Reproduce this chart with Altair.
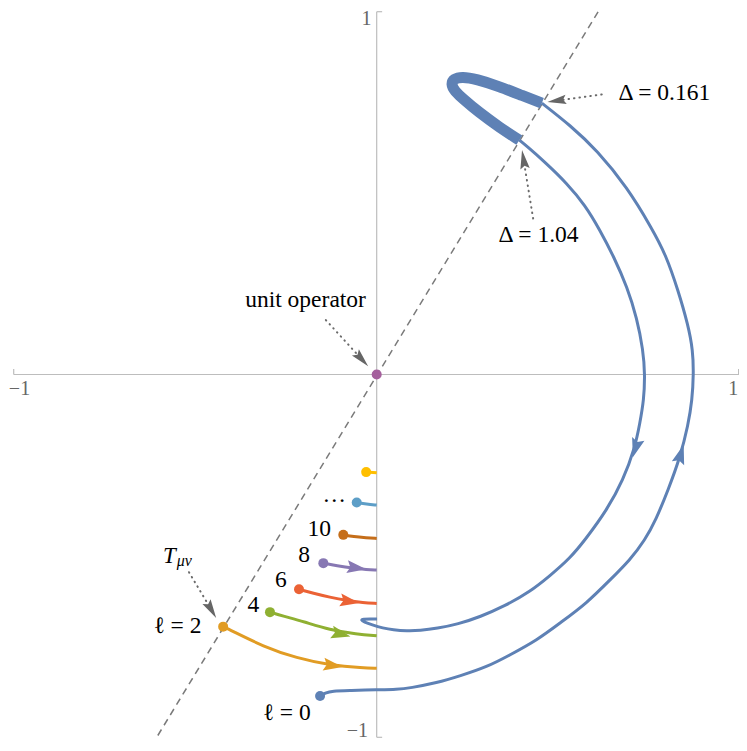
import math
import altair as alt
import pandas as pd

# ---------------- values (data coordinates) ----------------
diag_x = [-0.603, 0.615]
diag_y = [-0.995, 1.008]

# l = 0 trajectory, outer branch (from the l=0 point up to Delta=0.161)
l0_outer_x = [-0.156, -0.142, -0.123, -0.074, 0.001, 0.056, 0.092, 0.166, 0.229, 0.304, 0.367,
              0.442, 0.505, 0.579, 0.643, 0.698, 0.739, 0.769, 0.803, 0.836, 0.858, 0.869,
              0.873, 0.871, 0.858, 0.830, 0.797, 0.758, 0.690, 0.607, 0.533, 0.455]
l0_outer_y = [-0.886, -0.878, -0.872, -0.871, -0.869, -0.868, -0.864, -0.850, -0.831, -0.806, -0.773,
              -0.732, -0.685, -0.630, -0.566, -0.511, -0.456, -0.401, -0.318, -0.228, -0.139, -0.071,
              0.001, 0.067, 0.136, 0.233, 0.329, 0.403, 0.516, 0.618, 0.687, 0.748]
# thick loop between Delta=0.161 and Delta=1.04
l0_loop_x = [0.455, 0.403, 0.335, 0.275, 0.235, 0.212, 0.205, 0.214, 0.240, 0.280, 0.340, 0.393]
l0_loop_y = [0.748, 0.768, 0.795, 0.814, 0.821, 0.815, 0.800, 0.782, 0.758, 0.724, 0.680, 0.646]
# inner branch (from Delta=1.04 down and back to the axis)
l0_inner_x = [0.393, 0.414, 0.464, 0.524, 0.574, 0.615, 0.654, 0.690, 0.717, 0.734, 0.739, 0.736,
              0.725, 0.712, 0.679, 0.634, 0.574, 0.533, 0.477, 0.422, 0.353, 0.285, 0.224, 0.166,
              0.119, 0.083, 0.045, 0.017, -0.013, -0.035, -0.043, -0.038, -0.018, 0.001]
l0_inner_y = [0.646, 0.629, 0.585, 0.527, 0.467, 0.398, 0.323, 0.241, 0.155, 0.067, 0.001, -0.071,
              -0.134, -0.200, -0.291, -0.374, -0.456, -0.506, -0.555, -0.599, -0.638, -0.668, -0.688, -0.700,
              -0.706, -0.707, -0.704, -0.699, -0.690, -0.682, -0.677, -0.674, -0.674, -0.674]

l2_x = [-0.423, -0.404, -0.312, -0.220, -0.129, -0.037, 0.0]
l2_y = [-0.695, -0.704, -0.750, -0.782, -0.801, -0.809, -0.810]
l4_x = [-0.294, -0.257, -0.202, -0.129, -0.055, 0.0]
l4_y = [-0.655, -0.666, -0.681, -0.704, -0.716, -0.720]
l6_x = [-0.214, -0.175, -0.129, -0.083, -0.037, 0.0]
l6_y = [-0.592, -0.603, -0.614, -0.623, -0.629, -0.631]
l8_x = [-0.147, -0.110, -0.064, -0.028, 0.0]
l8_y = [-0.520, -0.527, -0.534, -0.538, -0.539]
l10_x = [-0.092, -0.064, -0.028, 0.0]
l10_y = [-0.442, -0.447, -0.450, -0.452]
l12_x = [-0.055, -0.028, 0.0]
l12_y = [-0.353, -0.357, -0.360]
l14_x = [-0.029, 0.0]
l14_y = [-0.269, -0.271]

unit_x = [0.0]
unit_y = [0.0]

# arrowheads on the flows: (series, x, y)
arrow_series = ["l0_inner", "l0_outer", "l2", "l4", "l6", "l8"]
arrow_x = [0.714, 0.837, -0.123, -0.101, -0.077, -0.058]
arrow_y = [-0.200, -0.222, -0.802, -0.715, -0.625, -0.533]

# annotation pointers: dotted line start and arrowhead position
ann_start_x = [-0.140, 0.620, 0.431, -0.517]
ann_start_y = [0.150, 0.772, 0.430, -0.545]
ann_head_x = [-0.043, 0.499, 0.405, -0.457]
ann_head_y = [0.044, 0.755, 0.590, -0.646]

# labels
lab_c_text = ["unit operator", "Δ = 1.04", "ℓ = 2", "ℓ = 0", "4", "6", "8", "10", "…"]
lab_c_x = [-0.196, 0.446, -0.549, -0.248, -0.340, -0.264, -0.200, -0.158, -0.117]
lab_c_y = [0.187, 0.366, -0.712, -0.953, -0.655, -0.585, -0.516, -0.445, -0.352]
lab_l_text = ["Δ = 0.161"]
lab_l_x = [0.666]
lab_l_y = [0.757]
tick_text = ["−1", "1", "1", "−1"]
tick_x = [-0.984, 0.982, -0.028, -0.053]
tick_y = [-0.057, -0.057, 0.962, -0.999]

# ---------------- styling ----------------
series_names = ["l0_outer", "l0_inner", "l2", "l4", "l6", "l8", "l10", "l12", "l14", "unit"]
series_colors = ["#5E81B5", "#5E81B5", "#E19C24", "#8FB032", "#EB6235", "#8778B3",
                 "#C56E1A", "#5D9EC7", "#FFBF00", "#A5609D"]
series_xy = {
    "l0_outer": (l0_outer_x, l0_outer_y), "l0_inner": (l0_inner_x, l0_inner_y),
    "l2": (l2_x, l2_y), "l4": (l4_x, l4_y), "l6": (l6_x, l6_y), "l8": (l8_x, l8_y),
    "l10": (l10_x, l10_y), "l12": (l12_x, l12_y), "l14": (l14_x, l14_y),
}

# the plot area covers the whole canvas; the domain leaves the small margins of the original
SX = alt.Scale(domain=[-1.0157, 0.9981], nice=False, zero=False)
SY = alt.Scale(domain=[-1.0157, 1.0102], nice=False, zero=False)
COL = alt.Color("s:N", scale=alt.Scale(domain=series_names, range=series_colors), legend=None)
FONT = "Liberation Serif"


def X(f="x"):
    return alt.X(f"{f}:Q", scale=SX, axis=None)


def Y(f="y"):
    return alt.Y(f"{f}:Q", scale=SY, axis=None)


def heading(xs, ys, ax, ay):
    k = min(range(len(xs)), key=lambda j: (xs[j] - ax) ** 2 + (ys[j] - ay) ** 2)
    k0, k1 = max(k - 1, 0), min(k + 1, len(xs) - 1)
    return (math.degrees(math.atan2(xs[k1] - xs[k0], ys[k1] - ys[k0])) + 360) % 360


rows = []
for name, (xs, ys) in series_xy.items():
    for i, (a, b) in enumerate(zip(xs, ys)):
        rows.append({"s": name, "i": i, "x": a, "y": b})
lines_df = pd.DataFrame(rows)
loop_df = pd.DataFrame({"s": "l0_outer", "i": range(len(l0_loop_x)), "x": l0_loop_x, "y": l0_loop_y})

arrows_df = pd.DataFrame({
    "s": arrow_series, "x": arrow_x, "y": arrow_y,
    "angle": [heading(*series_xy[s], ax, ay) for s, ax, ay in zip(arrow_series, arrow_x, arrow_y)],
})

dot_names = ["l0_outer", "l2", "l4", "l6", "l8", "l10", "l12", "l14"]
dots_df = pd.DataFrame({
    "s": dot_names + ["unit"],
    "x": [series_xy[n][0][0] for n in dot_names] + unit_x,
    "y": [series_xy[n][1][0] for n in dot_names] + unit_y,
})

axes_df = pd.DataFrame({"x": [-1, 0], "y": [0, -1], "x2": [1, 0], "y2": [0, 1]})
ticks_df = pd.DataFrame({"x": [-1, 0.997, 0, 0], "y": [0, 0, 1, -1],
                         "x2": [-1, 0.997, 0.015, 0.015], "y2": [0.015, 0.015, 1, -1]})
diag_df = pd.DataFrame({"x": [diag_x[0]], "y": [diag_y[0]], "x2": [diag_x[1]], "y2": [diag_y[1]]})

ann_df = pd.DataFrame({
    "x": ann_start_x, "y": ann_start_y, "x2": ann_head_x, "y2": ann_head_y,
    "angle": [(math.degrees(math.atan2(hx - sx, hy - sy)) + 360) % 360
              for sx, sy, hx, hy in zip(ann_start_x, ann_start_y, ann_head_x, ann_head_y)],
})

ARROW = "M0,-1L0.6,0.8L0,0.5L-0.6,0.8Z"
GRAY_ARROW = "M0,-1L0.45,0.8L0,0.5L-0.45,0.8Z"

axes = alt.Chart(axes_df).mark_rule(color="#bdbdbd", strokeWidth=1.2).encode(
    x=X(), y=Y(), x2="x2:Q", y2="y2:Q")
ticks = alt.Chart(ticks_df).mark_rule(color="#bdbdbd", strokeWidth=1.2).encode(
    x=X(), y=Y(), x2="x2:Q", y2="y2:Q")
diag = alt.Chart(diag_df).mark_rule(color="#7a7a7a", strokeWidth=1.5, strokeDash=[7, 5]).encode(
    x=X(), y=Y(), x2="x2:Q", y2="y2:Q")

lines = alt.Chart(lines_df).mark_line(interpolate="basis", strokeWidth=3).encode(
    x=X(), y=Y(), detail="s:N", color=COL, order="i:Q")
loop = alt.Chart(loop_df).mark_line(interpolate="basis", strokeWidth=11,
                                    strokeCap="butt", strokeJoin="round").encode(
    x=X(), y=Y(), color=COL, order="i:Q")

arrows = alt.Chart(arrows_df).mark_point(shape=ARROW, filled=True, size=460, opacity=1,
                                         strokeWidth=0).encode(
    x=X(), y=Y(), color=COL, angle=alt.Angle("angle:Q", scale=None))

dots = alt.Chart(dots_df).mark_circle(size=100, opacity=1).encode(x=X(), y=Y(), color=COL)

ann_lines = alt.Chart(ann_df).mark_rule(color="#6a6a6a", strokeWidth=2, strokeDash=[0.5, 5],
                                        strokeCap="round").encode(
    x=X(), y=Y(), x2="x2:Q", y2="y2:Q")
ann_heads = alt.Chart(ann_df).mark_point(shape=GRAY_ARROW, filled=True, size=440, opacity=1,
                                         strokeWidth=0, color="#666666").encode(
    x=X("x2"), y=Y("y2"), angle=alt.Angle("angle:Q", scale=None))

lab_c = alt.Chart(pd.DataFrame({"t": lab_c_text, "x": lab_c_x, "y": lab_c_y})).mark_text(
    font=FONT, fontSize=23.5, align="center", baseline="alphabetic", color="black").encode(
    x=X(), y=Y(), text="t:N")
lab_l = alt.Chart(pd.DataFrame({"t": lab_l_text, "x": lab_l_x, "y": lab_l_y})).mark_text(
    font=FONT, fontSize=23.5, align="left", baseline="alphabetic", color="black").encode(
    x=X(), y=Y(), text="t:N")
lab_T = alt.Chart(pd.DataFrame({"t": ["T"], "x": [-0.589], "y": [-0.519]})).mark_text(
    font=FONT, fontSize=23, fontStyle="italic", align="left", baseline="alphabetic",
    color="black").encode(x=X(), y=Y(), text="t:N")
lab_sub = alt.Chart(pd.DataFrame({"t": ["μν"], "x": [-0.551], "y": [-0.528]})).mark_text(
    font=FONT, fontSize=16, fontStyle="italic", align="left", baseline="alphabetic",
    color="black").encode(x=X(), y=Y(), text="t:N")
tick_lab = alt.Chart(pd.DataFrame({"t": tick_text, "x": tick_x, "y": tick_y})).mark_text(
    font=FONT, fontSize=20, align="center", baseline="alphabetic", color="#666666").encode(
    x=X(), y=Y(), text="t:N")

chart = alt.layer(
    axes, ticks, diag, lines, loop, arrows, dots, ann_lines, ann_heads,
    lab_c, lab_l, lab_T, lab_sub, tick_lab,
).properties(
    width=731, height=735,
    autosize=alt.AutoSizeParams(type="none"),
    padding=0,
    background="white",
).configure_view(stroke=None)

chart.save("out.html", embed_options={"renderer": "svg", "actions": False})
